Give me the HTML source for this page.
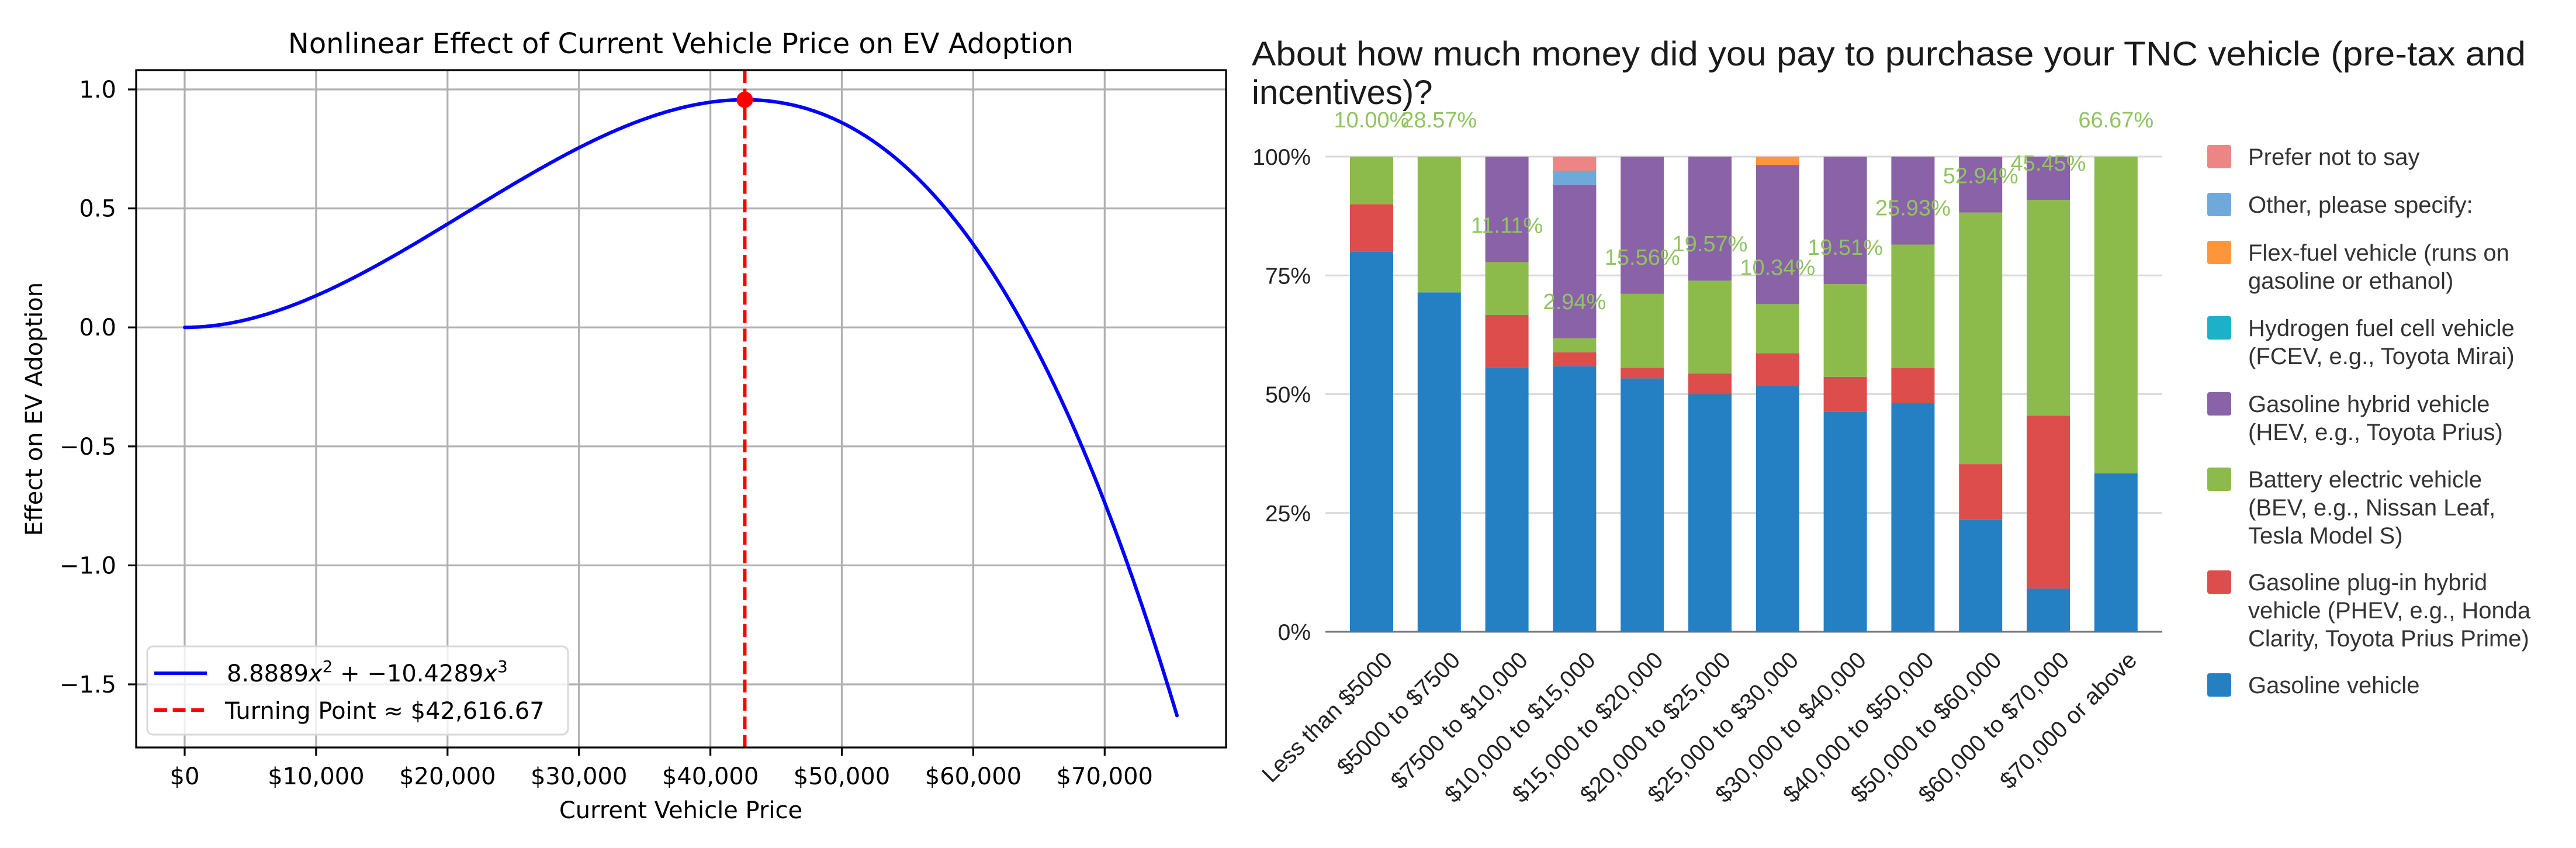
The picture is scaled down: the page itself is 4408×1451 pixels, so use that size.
<!DOCTYPE html>
<html><head><meta charset="utf-8"><style>
html,body{margin:0;padding:0;background:#fff;}
svg{display:block;}
</style></head><body>
<svg id="root" width="4408" height="1451" viewBox="0 0 4408 1451" xmlns="http://www.w3.org/2000/svg">
<rect x="0" y="0" width="4408" height="1451" fill="#fff"/>
<g id="left"></g>
<g id="right"></g>
</svg>
<script>
// ---------- Left chart data ----------
const coefA = 8.8889;
const coefB = -10.4289;
const priceScale = 75000;
const priceMax = 75500;
const turningPoint = 42616.67;
const xTicks = [0,10000,20000,30000,40000,50000,60000,70000];
const xTickLabels = ["$0","$10,000","$20,000","$30,000","$40,000","$50,000","$60,000","$70,000"];
const yTicks = [1.0,0.5,0.0,-0.5,-1.0,-1.5];
const yTickLabels = ["1.0","0.5","0.0","\u22120.5","\u22121.0","\u22121.5"];

// ---------- Right chart data ----------
const categories = ["Less than $5000","$5000 to $7500","$7500 to $10,000","$10,000 to $15,000","$15,000 to $20,000","$20,000 to $25,000","$25,000 to $30,000","$30,000 to $40,000","$40,000 to $50,000","$50,000 to $60,000","$60,000 to $70,000","$70,000 or above"];
const gasoline = [80.00,71.43,55.56,55.88,53.33,50.00,51.72,46.34,48.15,23.53,9.09,33.33];
const phev     = [10.00,0,11.11,2.94,2.22,4.35,6.90,7.32,7.41,11.76,36.36,0];
const bev      = [10.00,28.57,11.11,2.94,15.56,19.57,10.34,19.51,25.93,52.94,45.45,66.67];
const hev      = [0,0,22.22,32.35,28.89,26.09,29.31,26.83,18.52,11.76,9.09,0];
const hydrogen = [0,0,0,0,0,0,0,0,0,0,0,0];
const flexfuel = [0,0,0,0,0,0,1.72,0,0,0,0,0];
const other    = [0,0,0,2.94,0,0,0,0,0,0,0,0];
const preferNot= [0,0,0,2.94,0,0,0,0,0,0,0,0];
const rTickValues = [0,25,50,75,100];
const rTickLabels = ["0%","25%","50%","75%","100%"];

const NS = "http://www.w3.org/2000/svg";
function mk(parent, tag, attrs, text){
  const e = document.createElementNS(NS, tag);
  for (const k in attrs) e.setAttribute(k, attrs[k]);
  if (text !== undefined) e.textContent = text;
  parent.appendChild(e);
  return e;
}
const L = document.getElementById('left');
const R = document.getElementById('right');
const DJ = "DejaVu Sans, Liberation Sans, sans-serif";
const LS = "Liberation Sans, DejaVu Sans, sans-serif";

// ----- left axes functions
const ax = {l:233, r:2098, t:120, b:1279};
function xs(v){ return 316 + v/10000*224.9; }
function ys(v){ return 560.2 - v*407.2; }
function f(x){ const t = x/priceScale; return coefA*t*t + coefB*t*t*t; }

// grid
xTicks.forEach((v,i)=>{
  let g = mk(L,'line',{x1:xs(v),x2:xs(v),y1:ax.t,y2:ax.b,stroke:'#b0b0b0','stroke-width':3.2});
  
  
  let tk = mk(L,'line',{x1:xs(v),x2:xs(v),y1:ax.b,y2:ax.b+14,stroke:'#000','stroke-width':3.2});
  
  
  let tl = mk(L,'text',{x:xs(v),y:1342,'text-anchor':'middle','font-family':DJ,'font-size':40,fill:'#000'},xTickLabels[i]);
  
  
});
yTicks.forEach((v,i)=>{
  let g = mk(L,'line',{x1:ax.l,x2:ax.r,y1:ys(v),y2:ys(v),stroke:'#b0b0b0','stroke-width':3.2});
  
  
  let tk = mk(L,'line',{x1:ax.l-14,x2:ax.l,y1:ys(v),y2:ys(v),stroke:'#000','stroke-width':3.2});
  
  
  let tl = mk(L,'text',{x:199,y:ys(v)+14,'text-anchor':'end','font-family':DJ,'font-size':40,fill:'#000'},yTickLabels[i]);
  
  
});
// curve
let pts = [];
for (let i=0;i<=400;i++){ const x = priceMax*i/400; pts.push(xs(x).toFixed(1)+','+ys(f(x)).toFixed(1)); }
let curve = mk(L,'polyline',{points:pts.join(' '),fill:'none',stroke:'#0000ff','stroke-width':6,'stroke-linejoin':'round','stroke-linecap':'round'});


let vline = mk(L,'line',{x1:xs(turningPoint),x2:xs(turningPoint),y1:ax.t,y2:ax.b,stroke:'#ff0000','stroke-width':6,'stroke-dasharray':'22 9.6'});


let dot = mk(L,'circle',{cx:xs(turningPoint),cy:ys(f(turningPoint)),r:14,fill:'#ff0000'});


// spines
let sp = mk(L,'rect',{x:ax.l,y:ax.t,width:ax.r-ax.l,height:ax.b-ax.t,fill:'none',stroke:'#000','stroke-width':3.2});


// legend
let lg = mk(L,'g',{});


mk(lg,'rect',{x:252,y:1106,width:720,height:151,rx:10,fill:'#fff','fill-opacity':0.8,stroke:'#d9d9d9','stroke-width':3});
let l1 = mk(lg,'line',{x1:264,x2:354,y1:1152,y2:1152,stroke:'#0000ff','stroke-width':6});


let t1 = mk(lg,'text',{x:388,y:1166,'font-family':DJ,'font-size':40,fill:'#000'});


t1.innerHTML = '8.8889<tspan font-style="italic">x</tspan><tspan font-size="28" dy="-16">2</tspan><tspan dy="16"> + \u221210.4289</tspan><tspan font-style="italic">x</tspan><tspan font-size="28" dy="-16">3</tspan>';
let l2 = mk(lg,'line',{x1:264,x2:354,y1:1215,y2:1215,stroke:'#ff0000','stroke-width':6,'stroke-dasharray':'22 9.6'});


let t2 = mk(lg,'text',{x:385,y:1230,'font-family':DJ,'font-size':40,fill:'#000'},'Turning Point \u2248 $42,616.67');


// titles
let tt = mk(L,'text',{x:1165,y:91,'text-anchor':'middle','font-family':DJ,'font-size':48,fill:'#000'},'Nonlinear Effect of Current Vehicle Price on EV Adoption');


let xt = mk(L,'text',{x:1165,y:1400,'text-anchor':'middle','font-family':DJ,'font-size':40,fill:'#000'},'Current Vehicle Price');


let yt = mk(L,'text',{x:0,y:0,'text-anchor':'middle','font-family':DJ,'font-size':40,fill:'#000',transform:'translate(72,700) rotate(-90)'},'Effect on EV Adoption');



// ----- right chart
function rx(i){ return 2347 + i*115.8; }
function ry(v){ return 1081 - v/100*813; }
const barW = 74;
const seriesList = [gasoline, phev, bev, hev, hydrogen, flexfuel, other, preferNot];
const seriesNames = ['gasoline','phev','bev','hev','hydrogen','flex-fuel','other','prefer-not-to-say'];
const colors = ['#2580c3','#dc4d4b','#8cbb4c','#8a62a8','#1cb1c9','#fd9639','#6fa8da','#ec8583'];

rTickValues.forEach((v,i)=>{
  let g = mk(R,'line',{x1:2268,x2:3700,y1:ry(v),y2:ry(v),stroke: v===0?'#777':'#d9d9d9','stroke-width':3});
  
  
  let t = mk(R,'text',{x:2243,y:ry(v)+14,'text-anchor':'end','font-family':LS,'font-size':39,fill:'#222'},rTickLabels[i]);
  
  
});
categories.forEach((c,i)=>{
  let cum = 0;
  seriesList.forEach((s,k)=>{
    const v = s[i];
    if (v>0){
      let r = mk(R,'rect',{x:rx(i)-barW/2,y:ry(cum+v),width:barW,height:ry(cum)-ry(cum+v),fill:colors[k]});
      
      
    }
    cum += v;
  });
  const bevTop = gasoline[i]+phev[i]+bev[i];
  let lab = mk(R,'text',{x:rx(i),y:ry(bevTop)-50,'text-anchor':'middle','font-family':LS,'font-size':38,fill:'#8fc460'},bev[i].toFixed(2)+'%');
  
  
  let xl = mk(R,'text',{x:0,y:0,'text-anchor':'end','font-family':LS,'font-size':40,fill:'#222',transform:'translate('+(rx(i)+38)+',1132) rotate(-45)'},c);
  
  
});
let rt = mk(R,'text',{x:2142,y:112,'font-family':LS,'font-size':58,fill:'#1a1a1a',textLength:2180,lengthAdjust:'spacingAndGlyphs'},'About how much money did you pay to purchase your TNC vehicle (pre-tax and');


let rt2 = mk(R,'text',{x:2142,y:178,'font-family':LS,'font-size':58,fill:'#1a1a1a'},'incentives)?');



// legend
const legendItems = [
  {k:7, y:268, lines:['Prefer not to say']},
  {k:6, y:350, lines:['Other, please specify:']},
  {k:5, y:432, lines:['Flex-fuel vehicle (runs on','gasoline or ethanol)']},
  {k:4, y:561, lines:['Hydrogen fuel cell vehicle','(FCEV, e.g., Toyota Mirai)']},
  {k:3, y:691, lines:['Gasoline hybrid vehicle','(HEV, e.g., Toyota Prius)']},
  {k:2, y:820, lines:['Battery electric vehicle','(BEV, e.g., Nissan Leaf,','Tesla Model S)']},
  {k:1, y:996, lines:['Gasoline plug-in hybrid','vehicle (PHEV, e.g., Honda','Clarity, Toyota Prius Prime)']},
  {k:0, y:1172, lines:['Gasoline vehicle']}
];
legendItems.forEach(it=>{
  let g = mk(R,'g',{});
  
  
  mk(g,'rect',{x:3777,y:it.y-20,width:41,height:40,rx:4,fill:colors[it.k]});
  it.lines.forEach((ln,j)=>{
    mk(g,'text',{x:3847,y:it.y+14+j*48,'font-family':LS,'font-size':40,fill:'#333'},ln);
  });
});
</script>
</body></html>
